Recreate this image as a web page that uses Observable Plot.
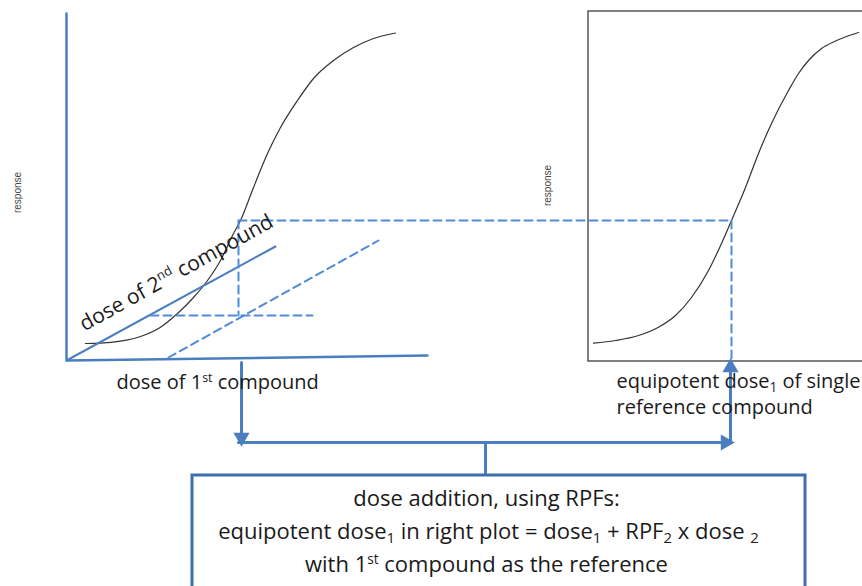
<!DOCTYPE html>
<html>
<head>
<meta charset="utf-8">
<script src="https://cdn.jsdelivr.net/npm/d3@7"></script>
<script src="https://cdn.jsdelivr.net/npm/@observablehq/plot@0.6"></script>
<style>
  html, body { margin: 0; padding: 0; background: #fff; }
  #chart svg { display: block; }
</style>
</head>
<body>
<div id="chart"></div>
<script>
// ---- Diagram data (diagram coordinates: x rightwards, y downwards) ----
// Dose-response curve of the 1st compound (left plot)
const leftCurve = [[85,343],[100,342.7],[120,340.7],[140,336],[160,326.7],[177,313],[193,297],[207,280],[220,260],[233,233],[240,220],[253,187],[267,153],[280,127],[297,100],[313,78],[333,60],[353,47],[373,38],[395,32.5]];
// Dose-response curve of the single reference compound (right plot)
const rightCurve = [[593,342.7],[615,340],[638,335],[658,326.7],[675,315],[691,297],[708,270],[721,243],[731,220],[745,187],[758,153],[771,123],[788,90],[798,73],[808,60],[821,48],[834,41],[846,36],[858,32]];
// Left plot axes (response axis + dose of 1st compound axis)
const leftAxes = [[66,13],[66,360],[427,355]];
// Dose of 2nd compound axis (solid, oblique)
const secondAxis = [[66,360],[275,246]];
// Dashed construction lines
const dashedLines = [
  {id:"parallel", pts:[[168,357],[378,240]]},
  {id:"lowLevel", pts:[[150,315],[312,315]]},
  {id:"dose1", pts:[[238,220],[238,315]]},
  {id:"equalResponse", pts:[[238,220],[731,220]]},
  {id:"equipotent", pts:[[731,220],[731,362]]}
];
// Right plot frame
const rightFrame = [{x1:588, x2:875, y1:11, y2:361}];
// Flow connectors
const connectors = [
  {id:"down", pts:[[241,362],[241,434]]},
  {id:"across", pts:[[238,442],[722,442]]},
  {id:"up", pts:[[730,442],[730,370]]},
  {id:"stem", pts:[[485,442],[485,475]]}
];
const arrowHeads = [
  {x:241, y:437, rot:180},
  {x:725, y:442, rot:90},
  {x:730, y:367, rot:0}
];
// Formula box
const formulaBox = [{x1:192, x2:805, y1:475, y2:610}];
// Texts
const responseLabels = [{x:17, y:192, t:"response"}, {x:547, y:185, t:"response"}];
const axisLabels = [
  {x:116, y:388, t:"dose of 1^{st} compound"},
  {x:616, y:387, t:"equipotent dose_{1} of single"},
  {x:616, y:413, t:"reference compound"}
];
const obliqueLabel = [{x:84, y:331, t:"dose of 2^{nd} compound"}];
const boxLines = [
  {x:486, y:505, t:"dose addition, using RPFs:"},
  {x:488, y:538, t:"equipotent dose_{1} in right plot = dose_{1} + RPF_{2} x dose _{2}"},
  {x:486, y:571, t:"with 1^{st} compound as the reference"}
];

const BLUE = "#4a7ebf";
const DASH = "#4f8bd6";
const BOXBLUE = "#3f6eae";
const TXT = "#1a1a1a";
const FONT = "'Open Sans', Lato, sans-serif";

const lineOf = (pts, opts) => Plot.line(pts, {x: d => d[0], y: d => d[1], ...opts});

const marks = [
  Plot.rect(rightFrame, {x1:"x1", x2:"x2", y1:"y1", y2:"y2", fill:"none", stroke:"#555", strokeWidth:1.5}),
  lineOf(leftCurve, {stroke:"#333", strokeWidth:1.2, curve:"monotone-x"}),
  lineOf(rightCurve, {stroke:"#333", strokeWidth:1.2, curve:"monotone-x"}),
  lineOf(leftAxes, {stroke:BLUE, strokeWidth:2.5}),
  lineOf(secondAxis, {stroke:BLUE, strokeWidth:2}),
  ...dashedLines.map(d => lineOf(d.pts, {stroke:DASH, strokeWidth:2, strokeDasharray:"8,5"})),
  ...connectors.map(d => lineOf(d.pts, {stroke:BLUE, strokeWidth:3})),
  Plot.dot(arrowHeads, {x:"x", y:"y", rotate:"rot", symbol:"triangle", r:6, fill:BLUE, stroke:"none"}),
  Plot.rect(formulaBox, {x1:"x1", x2:"x2", y1:"y1", y2:"y2", fill:"white", stroke:BOXBLUE, strokeWidth:3}),
  Plot.text(responseLabels, {x:"x", y:"y", text:"t", rotate:-90, fontSize:10, fill:"#444", fontFamily:"'Liberation Sans', Arial, sans-serif", textAnchor:"middle", lineAnchor:"middle"}),
  Plot.text(axisLabels, {x:"x", y:"y", text:"t", fontSize:20, fill:TXT, fontFamily:FONT, textAnchor:"start", lineAnchor:"bottom"}),
  Plot.text(obliqueLabel, {x:"x", y:"y", text:"t", rotate:-29, fontSize:21, fill:TXT, fontFamily:FONT, textAnchor:"start", lineAnchor:"bottom"}),
  Plot.text(boxLines, {x:"x", y:"y", text:"t", fontSize:22, fill:TXT, fontFamily:FONT, textAnchor:"middle", lineAnchor:"bottom"})
];

const chart = Plot.plot({
  width: 862,
  height: 586,
  margin: 0,
  style: {overflow: "hidden", background: "white"},
  x: {domain: [0, 862], axis: null},
  y: {domain: [586, 0], axis: null},
  marks
});

// turn ^{..} and _{..} into real superscript / subscript tspans
const NS = "http://www.w3.org/2000/svg";
chart.querySelectorAll("text").forEach(t => {
  const s = t.textContent;
  if (!/[\^_]\{/.test(s)) return;
  const parts = s.split(/([\^_]\{[^}]*\})/);
  while (t.firstChild) t.removeChild(t.firstChild);
  for (const p of parts) {
    if (!p) continue;
    const ts = document.createElementNS(NS, "tspan");
    const m = p.match(/^([\^_])\{([^}]*)\}$/);
    if (m) {
      ts.textContent = m[2];
      if (m[1] === "^") {
        ts.setAttribute("font-size", "0.62em");
        ts.setAttribute("baseline-shift", "0.6em");
      } else {
        ts.setAttribute("font-size", "0.68em");
        ts.setAttribute("baseline-shift", "-0.28em");
      }
    } else {
      ts.textContent = p;
    }
    t.appendChild(ts);
  }
});

document.getElementById("chart").appendChild(chart);
</script>
</body>
</html>
